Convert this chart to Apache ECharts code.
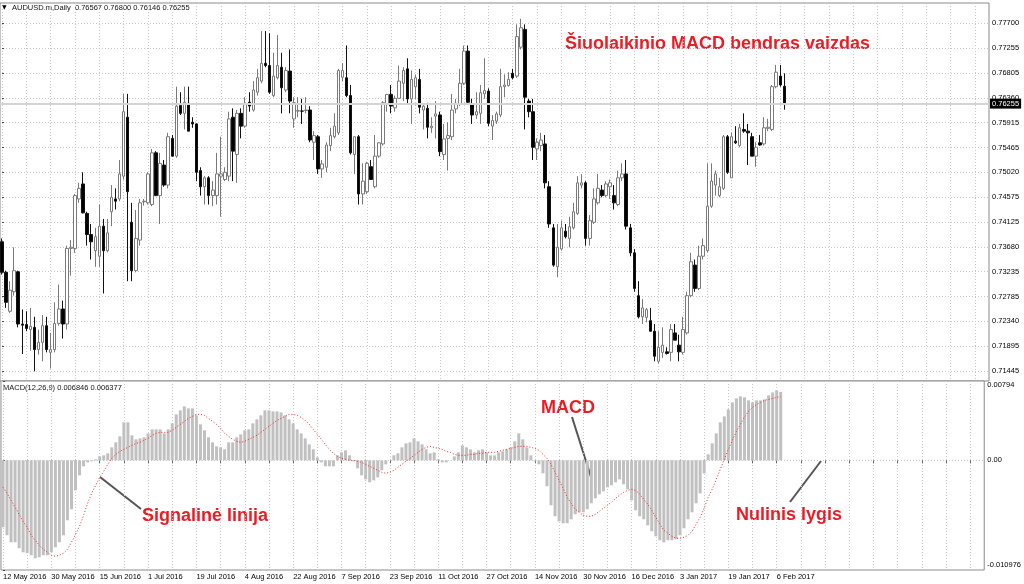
<!DOCTYPE html>
<html>
<head>
<meta charset="utf-8">
<script src="https://cdn.jsdelivr.net/npm/echarts/dist/echarts.min.js"></script>
<style>
html,body{margin:0;padding:0;background:#fff;}
#chart{width:1024px;height:584px;}
</style>
</head>
<body>
<div id="chart"></div>
<script>
// ---- data ----
const dateLabels = ['12 May 2016','30 May 2016','15 Jun 2016','1 Jul 2016','19 Jul 2016','4 Aug 2016','22 Aug 2016','7 Sep 2016','23 Sep 2016','11 Oct 2016','27 Oct 2016','14 Nov 2016','30 Nov 2016','16 Dec 2016','3 Jan 2017','19 Jan 2017','6 Feb 2017'];
const priceTicks = [0.71445,0.71895,0.72340,0.72785,0.73235,0.73680,0.74125,0.74575,0.75020,0.75465,0.75915,0.76360,0.76805,0.77255,0.77700];
const macdTicks = [-0.010976, 0, 0.00794];

const open = [
.7377,.7322,.7252,.7287,.7323,.7229,.7228,.7219,.7223,.7183,
.7196,.7226,.7178,.7183,.7230,.7256,.7229,.7365,.7365,.7454,
.7481,.7428,.7390,.7361,.7351,.7405,.7361,.7431,.7454,.7454,
.7495,.7601,.7412,.7325,.7380,.7449,.7447,.7444,.7537,.7460,
.7515,.7479,.7563,.7531,.7622,.7608,.7626,.7592,.7589,.7505,
.7476,.7492,.7460,.7460,.7495,.7489,.7495,.7601,.7534,.7608,
.7585,.7628,.7614,.7646,.7666,.7698,.7694,.7640,.7672,.7691,
.7650,.7684,.7598,.7612,.7612,.7613,.7614,.7556,.7566,.7508,
.7511,.7550,.7566,.7573,.7673,.7672,.7640,.7534,.7566,.7463,
.7467,.7512,.7476,.7531,.7553,.7624,.7642,.7618,.7635,.7662,
.7688,.7634,.7656,.7669,.7614,.7617,.7582,.7603,.7605,.7534,
.7563,.7566,.7616,.7624,.7662,.7720,.7624,.7605,.7608,.7643,
.7648,.7585,.7594,.7605,.7656,.7658,.7680,.7675,.7727,.7759,
.7630,.7611,.7544,.7550,.7553,.7476,.7402,.7332,.7364,.7396,
.7383,.7402,.7428,.7479,.7483,.7383,.7412,.7447,.7470,.7460,
.7476,.7460,.7444,.7492,.7499,.7402,.7357,.7280,.7242,.7241,
.7235,.7216,.7162,.7178,.7179,.7178,.7213,.7191,.7178,.7213,
.7280,.7335,.7293,.7351,.7361,.7441,.7479,.7460,.7473,.7566,
.7492,.7558,.7550,.7579,.7576,.7566,.7531,.7555,.7553,.7581,
.7579,.7656,.7675,.76567];
const close = [
.7322,.7268,.7290,.7325,.7229,.7227,.7221,.7225,.7183,.7196,
.7226,.7183,.7183,.7230,.7256,.7229,.7365,.7367,.7460,.7473,
.7429,.7390,.7377,.7386,.7405,.7361,.7393,.7457,.7450,.7499,
.7611,.7467,.7325,.7383,.7447,.7450,.7499,.7537,.7460,.7518,
.7479,.7566,.7531,.7621,.7608,.7628,.7576,.7589,.7502,.7476,
.7492,.7460,.7470,.7499,.7499,.7502,.7598,.7540,.7608,.7585,
.7624,.7621,.7650,.7672,.7698,.7694,.7646,.7675,.7694,.7654,
.7685,.7630,.7627,.7613,.7612,.7614,.7560,.7568,.7508,.7517,
.7551,.7568,.7585,.7685,.7685,.7640,.7537,.7566,.7463,.7486,
.7518,.7489,.7531,.7555,.7627,.7642,.7621,.7635,.7666,.7685,
.7634,.7669,.7672,.7619,.7621,.7583,.7585,.7607,.7539,.7562,
.7568,.7614,.7626,.7662,.7720,.7628,.7605,.7611,.7645,.7649,
.7590,.7595,.7607,.7656,.7659,.7669,.7672,.7746,.7762,.7637,
.7611,.7547,.7556,.7560,.7483,.7409,.7335,.7367,.7402,.7386,
.7404,.7431,.7483,.7483,.7383,.7415,.7454,.7473,.7460,.7481,
.7483,.7447,.7492,.7499,.7405,.7357,.7293,.7242,.7258,.7255,
.7216,.7171,.7187,.7191,.7176,.7219,.7200,.7179,.7219,.7280,
.7341,.7293,.7351,.7370,.7441,.7486,.7499,.7476,.7566,.7502,
.7566,.7555,.7582,.7576,.7573,.7531,.7547,.7551,.7582,.7583,
.7656,.7682,.7659,.76255];
const high = [
.7383,.7325,.7306,.7367,.7325,.7255,.7252,.7258,.7242,.7219,
.7245,.7242,.7213,.7268,.7300,.7271,.7370,.7380,.7463,.7483,
.7502,.7431,.7409,.7402,.7444,.7418,.7418,.7479,.7473,.7524,
.7643,.7643,.7447,.7434,.7454,.7454,.7502,.7544,.7540,.7537,
.7524,.7573,.7569,.7656,.7646,.7656,.7656,.7601,.7590,.7511,
.7495,.7495,.7486,.7537,.7566,.7511,.7611,.7617,.7614,.7617,
.7637,.7646,.7666,.7688,.7756,.7756,.7752,.7717,.7749,.7717,
.7691,.7723,.7637,.7637,.7634,.7637,.7621,.7576,.7569,.7524,
.7556,.7582,.7608,.7688,.7698,.7730,.7659,.7566,.7569,.7518,
.7521,.7524,.7569,.7556,.7630,.7643,.7659,.7640,.7694,.7691,
.7707,.7685,.7678,.7688,.7626,.7627,.7601,.7630,.7611,.7589,
.7592,.7643,.7634,.7688,.7730,.7730,.7634,.7646,.7659,.7707,
.7653,.7605,.7611,.7688,.7678,.7682,.7688,.7768,.7778,.7768,
.7634,.7634,.7563,.7573,.7569,.7486,.7409,.7409,.7415,.7409,
.7422,.7447,.7495,.7499,.7486,.7425,.7473,.7499,.7479,.7486,
.7489,.7479,.7505,.7518,.7524,.7409,.7364,.7306,.7274,.7258,
.7258,.7229,.7216,.7223,.7187,.7229,.7229,.7210,.7242,.7287,
.7357,.7345,.7370,.7383,.7518,.7518,.7505,.7492,.7569,.7569,
.7573,.7585,.7589,.7608,.7589,.7573,.7556,.7569,.7601,.7598,
.7659,.7695,.7695,.76800];
const low = [
.7318,.7258,.7249,.7280,.7223,.7175,.7216,.7181,.7144,.7174,
.7162,.7178,.7149,.7178,.7226,.7203,.7219,.7316,.7357,.7447,
.7428,.7370,.7345,.7332,.7332,.7284,.7358,.7405,.7435,.7450,
.7489,.7306,.7306,.7322,.7370,.7442,.7444,.7441,.7460,.7409,
.7476,.7473,.7530,.7528,.7605,.7579,.7576,.7582,.7486,.7460,
.7444,.7444,.7441,.7444,.7422,.7486,.7486,.7486,.7483,.7563,
.7582,.7611,.7611,.7640,.7662,.7691,.7643,.7637,.7669,.7608,
.7646,.7608,.7582,.7601,.7589,.7608,.7556,.7524,.7499,.7492,
.7502,.7540,.7563,.7569,.7666,.7637,.7534,.7499,.7444,.7444,
.7463,.7489,.7473,.7528,.7550,.7611,.7608,.7611,.7634,.7630,
.7624,.7589,.7634,.7608,.7579,.7563,.7573,.7563,.7531,.7524,
.7505,.7560,.7608,.7621,.7659,.7624,.7589,.7598,.7589,.7634,
.7585,.7560,.7589,.7601,.7637,.7656,.7669,.7672,.7723,.7579,
.7601,.7524,.7524,.7540,.7473,.7402,.7332,.7313,.7361,.7383,
.7367,.7399,.7425,.7473,.7370,.7370,.7409,.7444,.7457,.7457,
.7454,.7435,.7441,.7486,.7399,.7351,.7287,.7239,.7229,.7232,
.7216,.7162,.7158,.7168,.7174,.7162,.7200,.7162,.7174,.7210,
.7277,.7287,.7290,.7345,.7358,.7438,.7460,.7457,.7470,.7499,
.7492,.7553,.7547,.7573,.7515,.7531,.7512,.7550,.7550,.7576,
.7576,.7653,.7656,.76146];
const macd = [
-0.0067,-0.0075,-0.0082,-0.0082,-0.0088,-0.0092,-0.0093,-0.0095,-0.0098,-0.0097,
-0.0095,-0.0095,-0.0092,-0.0087,-0.0082,-0.0075,-0.0060,-0.0049,-0.0030,-0.0015,
-0.0006,-0.0002,-0.0001,0.0001,0.0004,0.0005,0.0007,0.0013,0.0018,0.0024,
0.0038,0.0038,0.0025,0.0021,0.0022,0.0023,0.0027,0.0031,0.0031,0.0031,
0.0027,0.0031,0.0037,0.0046,0.0050,0.0054,0.0052,0.0052,0.0045,0.0036,
0.0030,0.0023,0.0018,0.0014,0.0013,0.0011,0.0018,0.0018,0.0023,0.0026,
0.0030,0.0031,0.0037,0.0041,0.0045,0.0050,0.0050,0.0049,0.0049,0.0048,
0.0045,0.0041,0.0037,0.0031,0.0027,0.0022,0.0016,0.0011,0.0003,-0.0002,
-0.0006,-0.0006,-0.0006,0.0005,0.0008,0.0010,0.0005,-0.0001,-0.0008,-0.0015,
-0.0019,-0.0022,-0.0020,-0.0017,-0.0010,-0.0004,0.0000,0.0005,0.0007,0.0013,
0.0017,0.0018,0.0022,0.0019,0.0016,0.0011,0.0007,0.0008,0.0001,-0.0002,
-0.0002,0.0000,0.0004,0.0008,0.0015,0.0013,0.0011,0.0008,0.0010,0.0011,
0.0008,0.0005,0.0005,0.0008,0.0009,0.0011,0.0013,0.0019,0.0027,0.0021,
0.0013,0.0005,-0.0001,-0.0004,-0.0013,-0.0026,-0.0045,-0.0056,-0.0061,-0.0063,
-0.0063,-0.0059,-0.0054,-0.0052,-0.0052,-0.0049,-0.0043,-0.0038,-0.0034,-0.0031,
-0.0027,-0.0025,-0.0022,-0.0019,-0.0024,-0.0029,-0.0040,-0.0050,-0.0056,-0.0059,
-0.0065,-0.0071,-0.0076,-0.0080,-0.0082,-0.0080,-0.0080,-0.0079,-0.0075,-0.0068,
-0.0059,-0.0052,-0.0043,-0.0033,-0.0013,0.0006,0.0017,0.0027,0.0038,0.0044,
0.0051,0.0058,0.0062,0.0064,0.0063,0.0060,0.0058,0.0060,0.0060,0.0061,
0.0065,0.0068,0.0070,0.006846];
const signal = [
-0.0027,-0.0033,-0.0040,-0.0047,-0.0054,-0.0061,-0.0067,-0.0075,-0.0080,-0.0085,
-0.0089,-0.0092,-0.0095,-0.0096,-0.0095,-0.0093,-0.0089,-0.0082,-0.0074,-0.0066,
-0.0055,-0.0043,-0.0033,-0.0025,-0.0017,-0.0011,-0.0004,0.0002,0.0006,0.0009,
0.0011,0.0013,0.0015,0.0017,0.0018,0.0020,0.0022,0.0025,0.0027,0.0028,
0.0028,0.0028,0.0030,0.0033,0.0036,0.0039,0.0042,0.0044,0.0046,0.0046,
0.0045,0.0042,0.0039,0.0036,0.0032,0.0027,0.0024,0.0021,0.0019,0.0018,
0.0019,0.0021,0.0023,0.0025,0.0028,0.0031,0.0034,0.0037,0.0040,0.0042,
0.0044,0.0046,0.0046,0.0045,0.0043,0.0040,0.0036,0.0031,0.0026,0.0021,
0.0016,0.0011,0.0007,0.0004,0.0002,0.0001,0.0000,0.0000,-0.0001,-0.0002,
-0.0004,-0.0006,-0.0008,-0.0010,-0.0012,-0.0013,-0.0012,-0.0010,-0.0007,-0.0004,
-0.0001,0.0002,0.0005,0.0008,0.0011,0.0013,0.0014,0.0013,0.0012,0.0011,
0.0009,0.0008,0.0006,0.0005,0.0005,0.0005,0.0006,0.0006,0.0007,0.0007,
0.0008,0.0008,0.0008,0.0009,0.0010,0.0011,0.0012,0.0013,0.0014,0.0014,
0.0014,0.0013,0.0012,0.0010,0.0006,0.0002,-0.0004,-0.0012,-0.0020,-0.0028,
-0.0037,-0.0043,-0.0049,-0.0052,-0.0055,-0.0056,-0.0056,-0.0054,-0.0051,-0.0048,
-0.0045,-0.0042,-0.0038,-0.0035,-0.0032,-0.0030,-0.0029,-0.0030,-0.0034,-0.0039,
-0.0044,-0.0050,-0.0057,-0.0064,-0.0070,-0.0073,-0.0076,-0.0078,-0.0078,-0.0077,
-0.0075,-0.0071,-0.0064,-0.0057,-0.0048,-0.0037,-0.0029,-0.0019,-0.0009,0.0001,
0.0011,0.0020,0.0029,0.0036,0.0043,0.0049,0.0053,0.0056,0.0058,0.0060,
0.0061,0.0062,0.0063,0.006377];

// ---- build ----
const candleData = open.map((o, i) => [i, o, close[i], low[i], high[i]]);
const macdData = macd.map((v, i) => [i, v]);
const signalData = signal.map((v, i) => [i, v]);
const gridTicks = [];
for (let v = 0; v <= 240; v += 6) gridTicks.push(v);
const labelBars = dateLabels.map((d, k) => k * 12);
const lastClose = close[close.length - 1];

const FONT = 'Liberation Sans, Arial, sans-serif';
const gridLine = { show: true, lineStyle: { color: '#c8c8c8', type: [1, 2], width: 1 } };
const RED = '#ed1c24';

const chart = echarts.init(document.getElementById('chart'), null, { renderer: 'canvas' });
chart.setOption({
  animation: false,
  backgroundColor: '#ffffff',
  grid: [
    { left: 0, right: 35, top: 3, height: 378, show: true, borderColor: '#8a8a8a', borderWidth: 1, backgroundColor: '#fff' },
    { left: 0, right: 35, top: 381, height: 189, show: true, borderColor: '#8a8a8a', borderWidth: 1, backgroundColor: '#fff' }
  ],
  xAxis: [
    { type: 'value', gridIndex: 0, min: -0.5, max: 243.5,
      axisLine: { show: false }, axisTick: { show: false, customValues: gridTicks },
      axisLabel: { show: false }, splitLine: gridLine },
    { type: 'value', gridIndex: 1, min: -0.5, max: 243.5,
      axisLine: { show: false },
      axisTick: { show: true, customValues: gridTicks, length: 3, lineStyle: { color: '#666' } },
      axisLabel: { show: true, customValues: labelBars, align: 'left', margin: 3,
        fontSize: 7.5, fontFamily: FONT, color: '#000',
        formatter: v => dateLabels[Math.round(v / 12)] || '' },
      splitLine: gridLine }
  ],
  yAxis: [
    { type: 'value', gridIndex: 0, position: 'right', min: 0.71265, max: 0.78065,
      axisLine: { show: false },
      axisTick: { show: true, customValues: priceTicks, length: 2, lineStyle: { color: '#444' } },
      axisLabel: { customValues: priceTicks, margin: 3, fontSize: 7.5, fontFamily: FONT, color: '#000',
        formatter: v => v.toFixed(5) },
      splitLine: gridLine },
    { type: 'value', gridIndex: 1, position: 'right', min: macdTicks[0], max: macdTicks[2],
      axisLine: { show: false },
      axisTick: { show: true, customValues: macdTicks, length: 2, lineStyle: { color: '#444' } },
      axisLabel: { customValues: macdTicks, margin: 3, fontSize: 7.5, fontFamily: FONT, color: '#000',
        formatter: v => v === 0 ? '0.00' : (v > 0 ? '{t|' + v + '}' : '{b|' + v + '}'),
        rich: { t: { padding: [7, 0, 0, 0], fontSize: 7.5, fontFamily: FONT, color: '#000' },
                b: { padding: [0, 0, 10, 0], fontSize: 7.5, fontFamily: FONT, color: '#000' } } },
      splitLine: gridLine }
  ],
  series: [
    { type: 'line', xAxisIndex: 0, yAxisIndex: 0, data: [], z: 1,
      markLine: { silent: true, symbol: ['none', 'none'], animation: false, precision: 5,
        lineStyle: { color: '#d4d4d4', width: 2, type: 'solid' },
        label: { show: true, position: 'end', distance: 1, formatter: lastClose.toFixed(5),
          backgroundColor: '#000', color: '#fff', fontSize: 7.5, fontFamily: FONT, padding: [1, 2, 1, 2] },
        data: [{ yAxis: lastClose }] } },
    { type: 'candlestick', xAxisIndex: 0, yAxisIndex: 0, data: candleData, z: 3,
      encode: { x: 0, y: [1, 2, 3, 4] }, barWidth: 3,
      itemStyle: { color: '#ffffff', color0: '#000000', borderColor: '#7a7a7a', borderColor0: '#111111', borderWidth: 1 } },
    { type: 'bar', xAxisIndex: 1, yAxisIndex: 1, data: macdData, barWidth: 3,
      itemStyle: { color: '#c0c0c0' } },
    { type: 'line', xAxisIndex: 1, yAxisIndex: 1, data: signalData, showSymbol: false, symbol: 'none',
      lineStyle: { color: '#ff2020', width: 1, type: [1, 2] }, z: 5 }
  ],
  graphic: [
    { type: 'text', x: 2, y: 4, style: { text: '▼', fill: '#000', font: '6px DejaVu Sans' } },
    { type: 'text', x: 12, y: 4, style: { text: 'AUDUSD.m,Daily  0.76567 0.76800 0.76146 0.76255', fill: '#111', font: '7.5px ' + FONT } },
    { type: 'text', x: 3, y: 384, style: { text: 'MACD(12,26,9) 0.006846 0.006377', fill: '#111', font: '7.5px ' + FONT } },
    { type: 'text', x: 565, y: 35, style: { text: 'Šiuolaikinio MACD bendras vaizdas', fill: RED, font: 'bold 18px ' + FONT } },
    { type: 'text', x: 541, y: 399, style: { text: 'MACD', fill: RED, font: 'bold 18px ' + FONT } },
    { type: 'text', x: 142, y: 507, style: { text: 'Signalinė linija', fill: RED, font: 'bold 18px ' + FONT } },
    { type: 'text', x: 736, y: 506, style: { text: 'Nulinis lygis', fill: RED, font: 'bold 18px ' + FONT } },
    { type: 'line', shape: { x1: 100, y1: 477, x2: 141, y2: 509 }, style: { stroke: '#555', lineWidth: 2 } },
    { type: 'line', shape: { x1: 572, y1: 417, x2: 591, y2: 477 }, style: { stroke: '#555', lineWidth: 2 } },
    { type: 'line', shape: { x1: 821, y1: 461, x2: 790, y2: 502 }, style: { stroke: '#555', lineWidth: 2 } }
  ]
});
</script>
</body>
</html>
